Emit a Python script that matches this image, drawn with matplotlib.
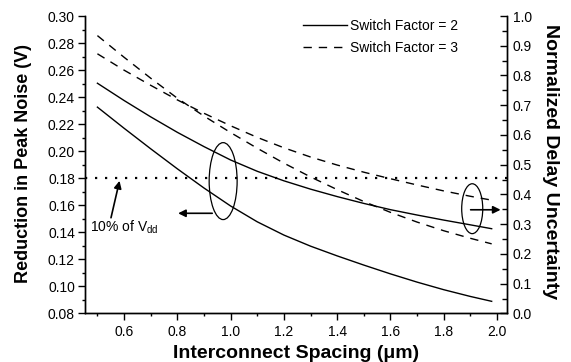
import matplotlib
matplotlib.use("Agg")
import matplotlib.pyplot as plt
from matplotlib.patches import Ellipse
from matplotlib.ticker import MultipleLocator

plt.rcParams['font.family'] = ['Liberation Sans', 'DejaVu Sans']

# interconnect spacing (um)
spacing = [0.5, 0.6, 0.7, 0.8, 0.9, 1.0, 1.1, 1.2, 1.3, 1.4, 1.5, 1.6, 1.7, 1.8, 1.9, 1.98]

# reduction in peak noise (V), left axis
noise_sf2 = [0.2326, 0.2170, 0.2018, 0.1870, 0.1728, 0.1595, 0.1478, 0.1380,
             0.1298, 0.1226, 0.1158, 0.1093, 0.1032, 0.0976, 0.0926, 0.0890]
noise_sf3 = [0.2855, 0.2695, 0.2540, 0.2392, 0.2260, 0.2138, 0.2022, 0.1912,
             0.1810, 0.1716, 0.1628, 0.1548, 0.1476, 0.1412, 0.1356, 0.1315]

# normalized delay uncertainty, right axis
delay_sf2 = [0.774, 0.716, 0.661, 0.609, 0.561, 0.516, 0.478, 0.446,
             0.418, 0.393, 0.370, 0.349, 0.331, 0.314, 0.298, 0.285]
delay_sf3 = [0.873, 0.818, 0.767, 0.718, 0.673, 0.631, 0.592, 0.557,
             0.526, 0.499, 0.475, 0.453, 0.432, 0.412, 0.394, 0.381]

vdd_limit = 0.18  # 10% of Vdd

fig = plt.figure(figsize=(5.71, 3.62), dpi=100)
ax = fig.add_axes([0.1489, 0.134, 0.7390, 0.8218])
ax2 = ax.twinx()

dash = (0, (6, 5))
ax.plot(spacing, noise_sf2, color='k', lw=1.0, label='Switch Factor = 2')
ax.plot(spacing, noise_sf3, color='k', lw=1.0, ls=dash, label='Switch Factor = 3')
ax2.plot(spacing, delay_sf2, color='k', lw=1.0)
ax2.plot(spacing, delay_sf3, color='k', lw=1.0, ls=dash)

ax.axhline(vdd_limit, color='k', lw=1.6, ls=(0, (1, 3.5)))

ax.set_xlim(0.4535, 2.0375)
ax.set_ylim(0.08, 0.30)
ax2.set_ylim(0.0, 1.0)

ax.xaxis.set_major_locator(MultipleLocator(0.2))
ax.xaxis.set_minor_locator(MultipleLocator(0.1))
ax.yaxis.set_major_locator(MultipleLocator(0.02))
ax.yaxis.set_minor_locator(MultipleLocator(0.01))
ax2.yaxis.set_major_locator(MultipleLocator(0.1))
ax2.yaxis.set_minor_locator(MultipleLocator(0.05))
ax.xaxis.set_major_formatter(lambda v, p: f'{v:.1f}')
ax.yaxis.set_major_formatter(lambda v, p: f'{v:.2f}')
ax2.yaxis.set_major_formatter(lambda v, p: f'{v:.1f}')

for a in (ax, ax2):
    a.spines['top'].set_visible(False)
    for s in a.spines.values():
        s.set_linewidth(1.0)
ax.tick_params(axis='both', which='major', direction='out', length=4.8, width=1.0,
               labelsize=10, pad=2.5)
ax.tick_params(axis='both', which='minor', direction='out', length=2.4, width=1.0)
ax.tick_params(axis='x', which='major', pad=3.5)
ax2.tick_params(axis='y', which='major', direction='in', length=5, width=1.0,
                labelsize=10, pad=4)
ax2.tick_params(axis='y', which='minor', direction='in', length=3.6, width=1.0)

ax.set_xlabel('Interconnect Spacing (\u03bcm)', fontsize=14, fontweight='bold')
ax.set_ylabel('Reduction in Peak Noise (V)', fontsize=13, fontweight='bold')
ax2.set_ylabel('Normalized Delay Uncertainty', fontsize=14, fontweight='bold',
               rotation=-90)
ax.xaxis.set_label_coords(0.5, -0.105)
ax.yaxis.set_label_coords(-0.125, 0.504)
ax2.yaxis.set_label_coords(1.124, 0.51)

# ellipses marking the curve groups
ax.add_patch(Ellipse((0.972, 0.1779), 0.105, 0.0569, fill=False, lw=0.9, color='k'))
ax.add_patch(Ellipse((1.907, 0.1575), 0.079, 0.0369, fill=False, lw=0.9, color='k'))

arrow = dict(arrowstyle='-|>', lw=1.2, color='k', mutation_scale=11, shrinkA=0, shrinkB=0)
ax.annotate('', xy=(0.803, 0.1541), xytext=(0.931, 0.1541), arrowprops=arrow)
ax.annotate('', xy=(2.0135, 0.1567), xytext=(1.901, 0.1567), arrowprops=arrow)
ax.annotate('', xy=(0.583, 0.1781), xytext=(0.551, 0.1508), arrowprops=arrow)
ax.text(0.472, 0.1434, '10% of V$_{\\mathregular{dd}}$', fontsize=10, va='center', ha='left')

ax.legend(loc='upper left', bbox_to_anchor=(0.5306, 0.9475),
          bbox_transform=fig.transFigure, frameon=False, fontsize=10,
          handlelength=3.2, handletextpad=0.2, labelspacing=0.55, borderpad=0,
          borderaxespad=0)

fig.savefig('out.png', dpi=100)
